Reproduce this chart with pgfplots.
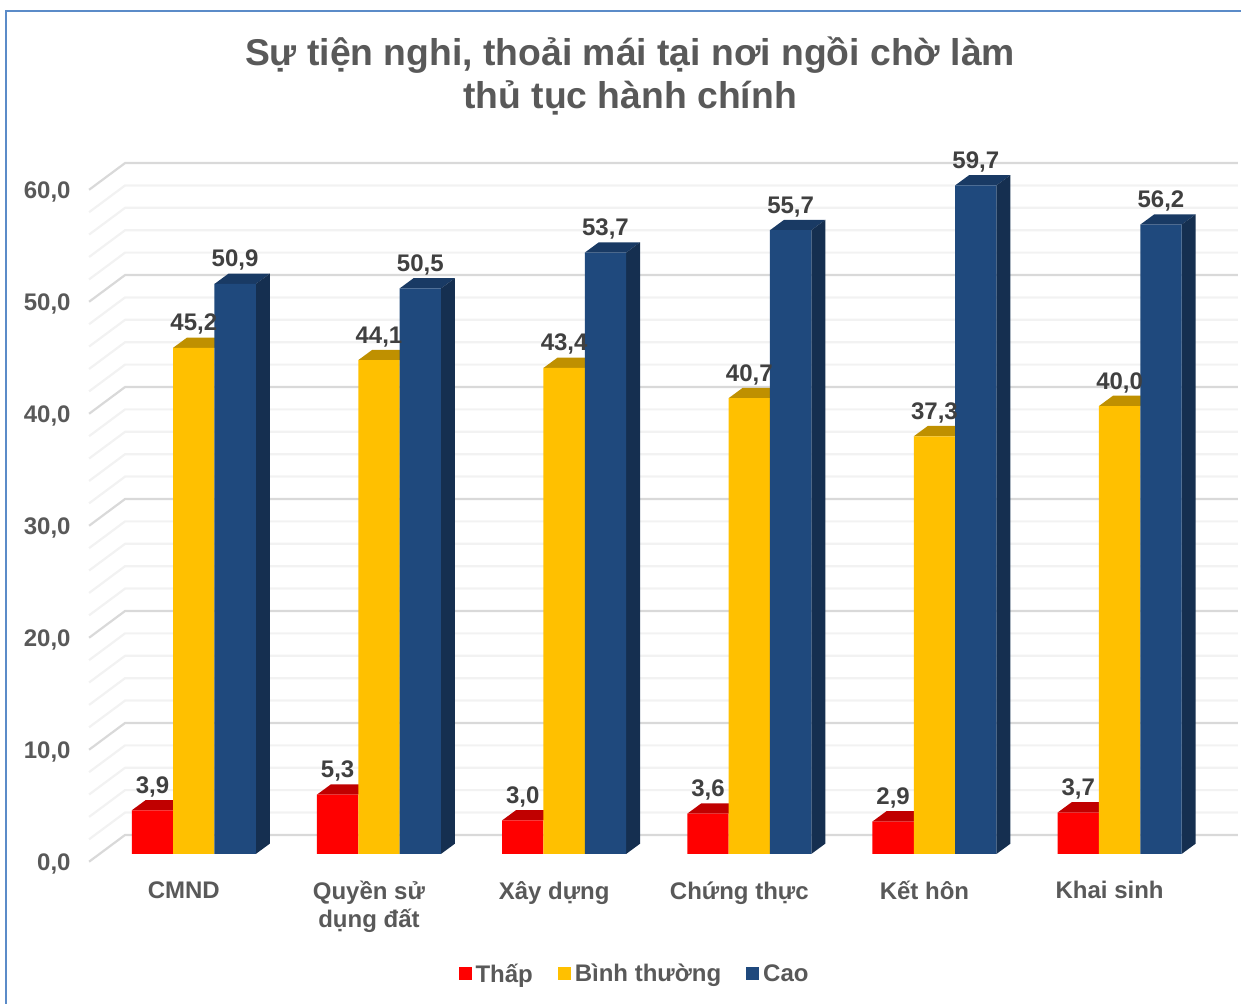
\documentclass[border=0pt]{standalone}
\usepackage{fontspec}
\setmainfont{Liberation Sans}
\usepackage{pgfplots}
\usepackage{pgfplotstable}
\pgfplotsset{compat=1.18}
\definecolor{cred}{HTML}{FF0000}
\definecolor{credtop}{HTML}{C00000}
\definecolor{cyel}{HTML}{FFC000}
\definecolor{cyeltop}{HTML}{BF9000}
\definecolor{cblue}{HTML}{1F497D}
\definecolor{cbluetop}{HTML}{193A64}
\definecolor{cblueside}{HTML}{152F50}
\definecolor{ctext}{HTML}{595959}
\definecolor{clabel}{HTML}{404040}
\definecolor{gmaj}{HTML}{D9D9D9}
\definecolor{gmin}{HTML}{F2F2F2}
\definecolor{cframe}{HTML}{5B8BC8}
\pgfdeclareplotmark{bartop}{%
  \pgfpathmoveto{\pgfqpoint{-20.67pt}{0pt}}%
  \pgfpathlineto{\pgfqpoint{-6.67pt}{10.3pt}}%
  \pgfpathlineto{\pgfqpoint{34.67pt}{10.3pt}}%
  \pgfpathlineto{\pgfqpoint{20.67pt}{0pt}}%
  \pgfpathclose\pgfusepathqfill}
\pgfplotstableread{
i v
0 3.9
1 5.3
2 3.0
3 3.6
4 2.9
5 3.7
}\lowT
\pgfplotstableread{
i v
0 45.2
1 44.1
2 43.4
3 40.7
4 37.3
5 40.0
}\midT
\pgfplotstableread{
i v
0 50.9
1 50.5
2 53.7
3 55.7
4 59.7
5 56.2
}\highT
\pgfplotstableread{
x y
-0.5653 -0.69
-0.3709 1.70
5.6389 1.70
nan nan
-0.5653 9.31
-0.3709 11.70
5.6389 11.70
nan nan
-0.5653 19.31
-0.3709 21.70
5.6389 21.70
nan nan
-0.5653 29.31
-0.3709 31.70
5.6389 31.70
nan nan
-0.5653 39.31
-0.3709 41.70
5.6389 41.70
nan nan
-0.5653 49.31
-0.3709 51.70
5.6389 51.70
nan nan
-0.5653 59.31
-0.3709 61.70
5.6389 61.70
}\gridMajor
\pgfplotstableread{
x y
-0.5653 1.31
-0.3709 3.70
5.6389 3.70
nan nan
-0.5653 3.31
-0.3709 5.70
5.6389 5.70
nan nan
-0.5653 5.31
-0.3709 7.70
5.6389 7.70
nan nan
-0.5653 7.31
-0.3709 9.70
5.6389 9.70
nan nan
-0.5653 11.31
-0.3709 13.70
5.6389 13.70
nan nan
-0.5653 13.31
-0.3709 15.70
5.6389 15.70
nan nan
-0.5653 15.31
-0.3709 17.70
5.6389 17.70
nan nan
-0.5653 17.31
-0.3709 19.70
5.6389 19.70
nan nan
-0.5653 21.31
-0.3709 23.70
5.6389 23.70
nan nan
-0.5653 23.31
-0.3709 25.70
5.6389 25.70
nan nan
-0.5653 25.31
-0.3709 27.70
5.6389 27.70
nan nan
-0.5653 27.31
-0.3709 29.70
5.6389 29.70
nan nan
-0.5653 31.31
-0.3709 33.70
5.6389 33.70
nan nan
-0.5653 33.31
-0.3709 35.70
5.6389 35.70
nan nan
-0.5653 35.31
-0.3709 37.70
5.6389 37.70
nan nan
-0.5653 37.31
-0.3709 39.70
5.6389 39.70
nan nan
-0.5653 41.31
-0.3709 43.70
5.6389 43.70
nan nan
-0.5653 43.31
-0.3709 45.70
5.6389 45.70
nan nan
-0.5653 45.31
-0.3709 47.70
5.6389 47.70
nan nan
-0.5653 47.31
-0.3709 49.70
5.6389 49.70
nan nan
-0.5653 51.31
-0.3709 53.70
5.6389 53.70
nan nan
-0.5653 53.31
-0.3709 55.70
5.6389 55.70
nan nan
-0.5653 55.31
-0.3709 57.70
5.6389 57.70
nan nan
-0.5653 57.31
-0.3709 59.70
5.6389 59.70
}\gridMinor
\begin{document}
\begin{tikzpicture}
\begin{axis}[
  at={(0pt,0pt)}, anchor=south west,
  scale only axis, width=1241pt, height=1004pt,
  xmin=-1.04590, xmax=5.65497, ymin=-13.393, ymax=76.25,
  axis line style={draw=none},
  major tick length=0pt, minor tick length=0pt,
  unbounded coords=jump,
  clip mode=individual,
  /pgf/number format/.cd, use comma, fixed, fixed zerofill, precision=1, assume math mode=true,
  /pgfplots/.cd,
  xtick={0,1,2,3,4,5},
  xticklabels={CMND,{Quyền sử\\dụng đất},Xây dựng,Chứng thực,Kết hôn,Khai sinh},
  xticklabel style={font=\fontsize{24}{28}\selectfont\bfseries, text=ctext, align=center, anchor=north, xshift=-10pt, yshift=126pt},
  ytick={0,10,20,30,40,50,60},
  yticklabel style={font=\fontsize{24}{28}\selectfont\bfseries, text=ctext, anchor=east, xshift=74pt, yshift=-10pt},
  title={Sự tiện nghi, thoải mái tại nơi ngồi chờ làm\\thủ tục hành chính},
  title style={at={(0.5077,0.9183)}, anchor=center, align=center, text=ctext, font=\fontsize{37.3}{43}\selectfont\bfseries},
  legend columns=3,
  legend cell align=left,
  legend image code/.code={\fill[#1] (0pt,-6.5pt) rectangle (13pt,6.5pt);},
  legend style={at={(0.5113,0.0299)}, anchor=center, draw=none, fill=none,
    font=\fontsize{24}{28}\selectfont\bfseries, text=ctext,
    /tikz/every even column/.append style={column sep=23pt},
    /tikz/every odd column/.append style={column sep=2pt}},
]
% frame
\addplot[cframe, line width=2pt, forget plot] coordinates {(-1.0135,-13.393) (-1.0135,75.27) (5.65497,75.27)};
% gridlines
\addplot[gmin, line width=2.2pt, forget plot] table[x=x,y=y] {\gridMinor};
\addplot[gmaj, line width=2.2pt, forget plot] table[x=x,y=y] {\gridMajor};
% low
\addplot[only marks, mark=bartop, mark options={fill=credtop}, forget plot] table[x expr=\thisrow{i}-0.2232, y=v] {\lowT};
\addplot[ybar, bar width=0.2232, bar shift=-0.2232, fill=cred, draw=none] table[x=i,y=v] {\lowT};
% mid
\addplot[only marks, mark=bartop, mark options={fill=cyeltop}, forget plot] table[x=i, y=v] {\midT};
\addplot[ybar, bar width=0.2232, bar shift=0, fill=cyel, draw=none] table[x=i,y=v] {\midT};
% high
\addplot[only marks, mark=bartop, mark options={fill=cbluetop}, forget plot] table[x expr=\thisrow{i}+0.2232, y=v] {\highT};
\addplot[fill=cblueside, draw=none, forget plot] coordinates {(0.3348,0) (0.4104,0.92) (0.4104,51.82) (0.3348,50.9)};
\addplot[fill=cblueside, draw=none, forget plot] coordinates {(1.3348,0) (1.4104,0.92) (1.4104,51.42) (1.3348,50.5)};
\addplot[fill=cblueside, draw=none, forget plot] coordinates {(2.3348,0) (2.4104,0.92) (2.4104,54.62) (2.3348,53.7)};
\addplot[fill=cblueside, draw=none, forget plot] coordinates {(3.3348,0) (3.4104,0.92) (3.4104,56.62) (3.3348,55.7)};
\addplot[fill=cblueside, draw=none, forget plot] coordinates {(4.3348,0) (4.4104,0.92) (4.4104,60.62) (4.3348,59.7)};
\addplot[fill=cblueside, draw=none, forget plot] coordinates {(5.3348,0) (5.4104,0.92) (5.4104,57.12) (5.3348,56.2)};
\addplot[ybar, bar width=0.2232, bar shift=0.2232, fill=cblue, draw=none] table[x=i,y=v] {\highT};
% data labels
\pgfplotsset{lbl/.style={only marks, mark=none, forget plot, nodes near coords,
  nodes near coords style={anchor=base, yshift=17pt, inner sep=0pt, text=clabel, font=\fontsize{24}{28}\selectfont\bfseries}}}
\addplot[lbl] table[x expr=\thisrow{i}-0.2232, y=v] {\lowT};
\addplot[lbl] table[x=i, y=v] {\midT};
\addplot[lbl] table[x expr=\thisrow{i}+0.2232, y=v] {\highT};
\legend{Thấp,Bình thường,Cao}
\end{axis}
\end{tikzpicture}
\end{document}
